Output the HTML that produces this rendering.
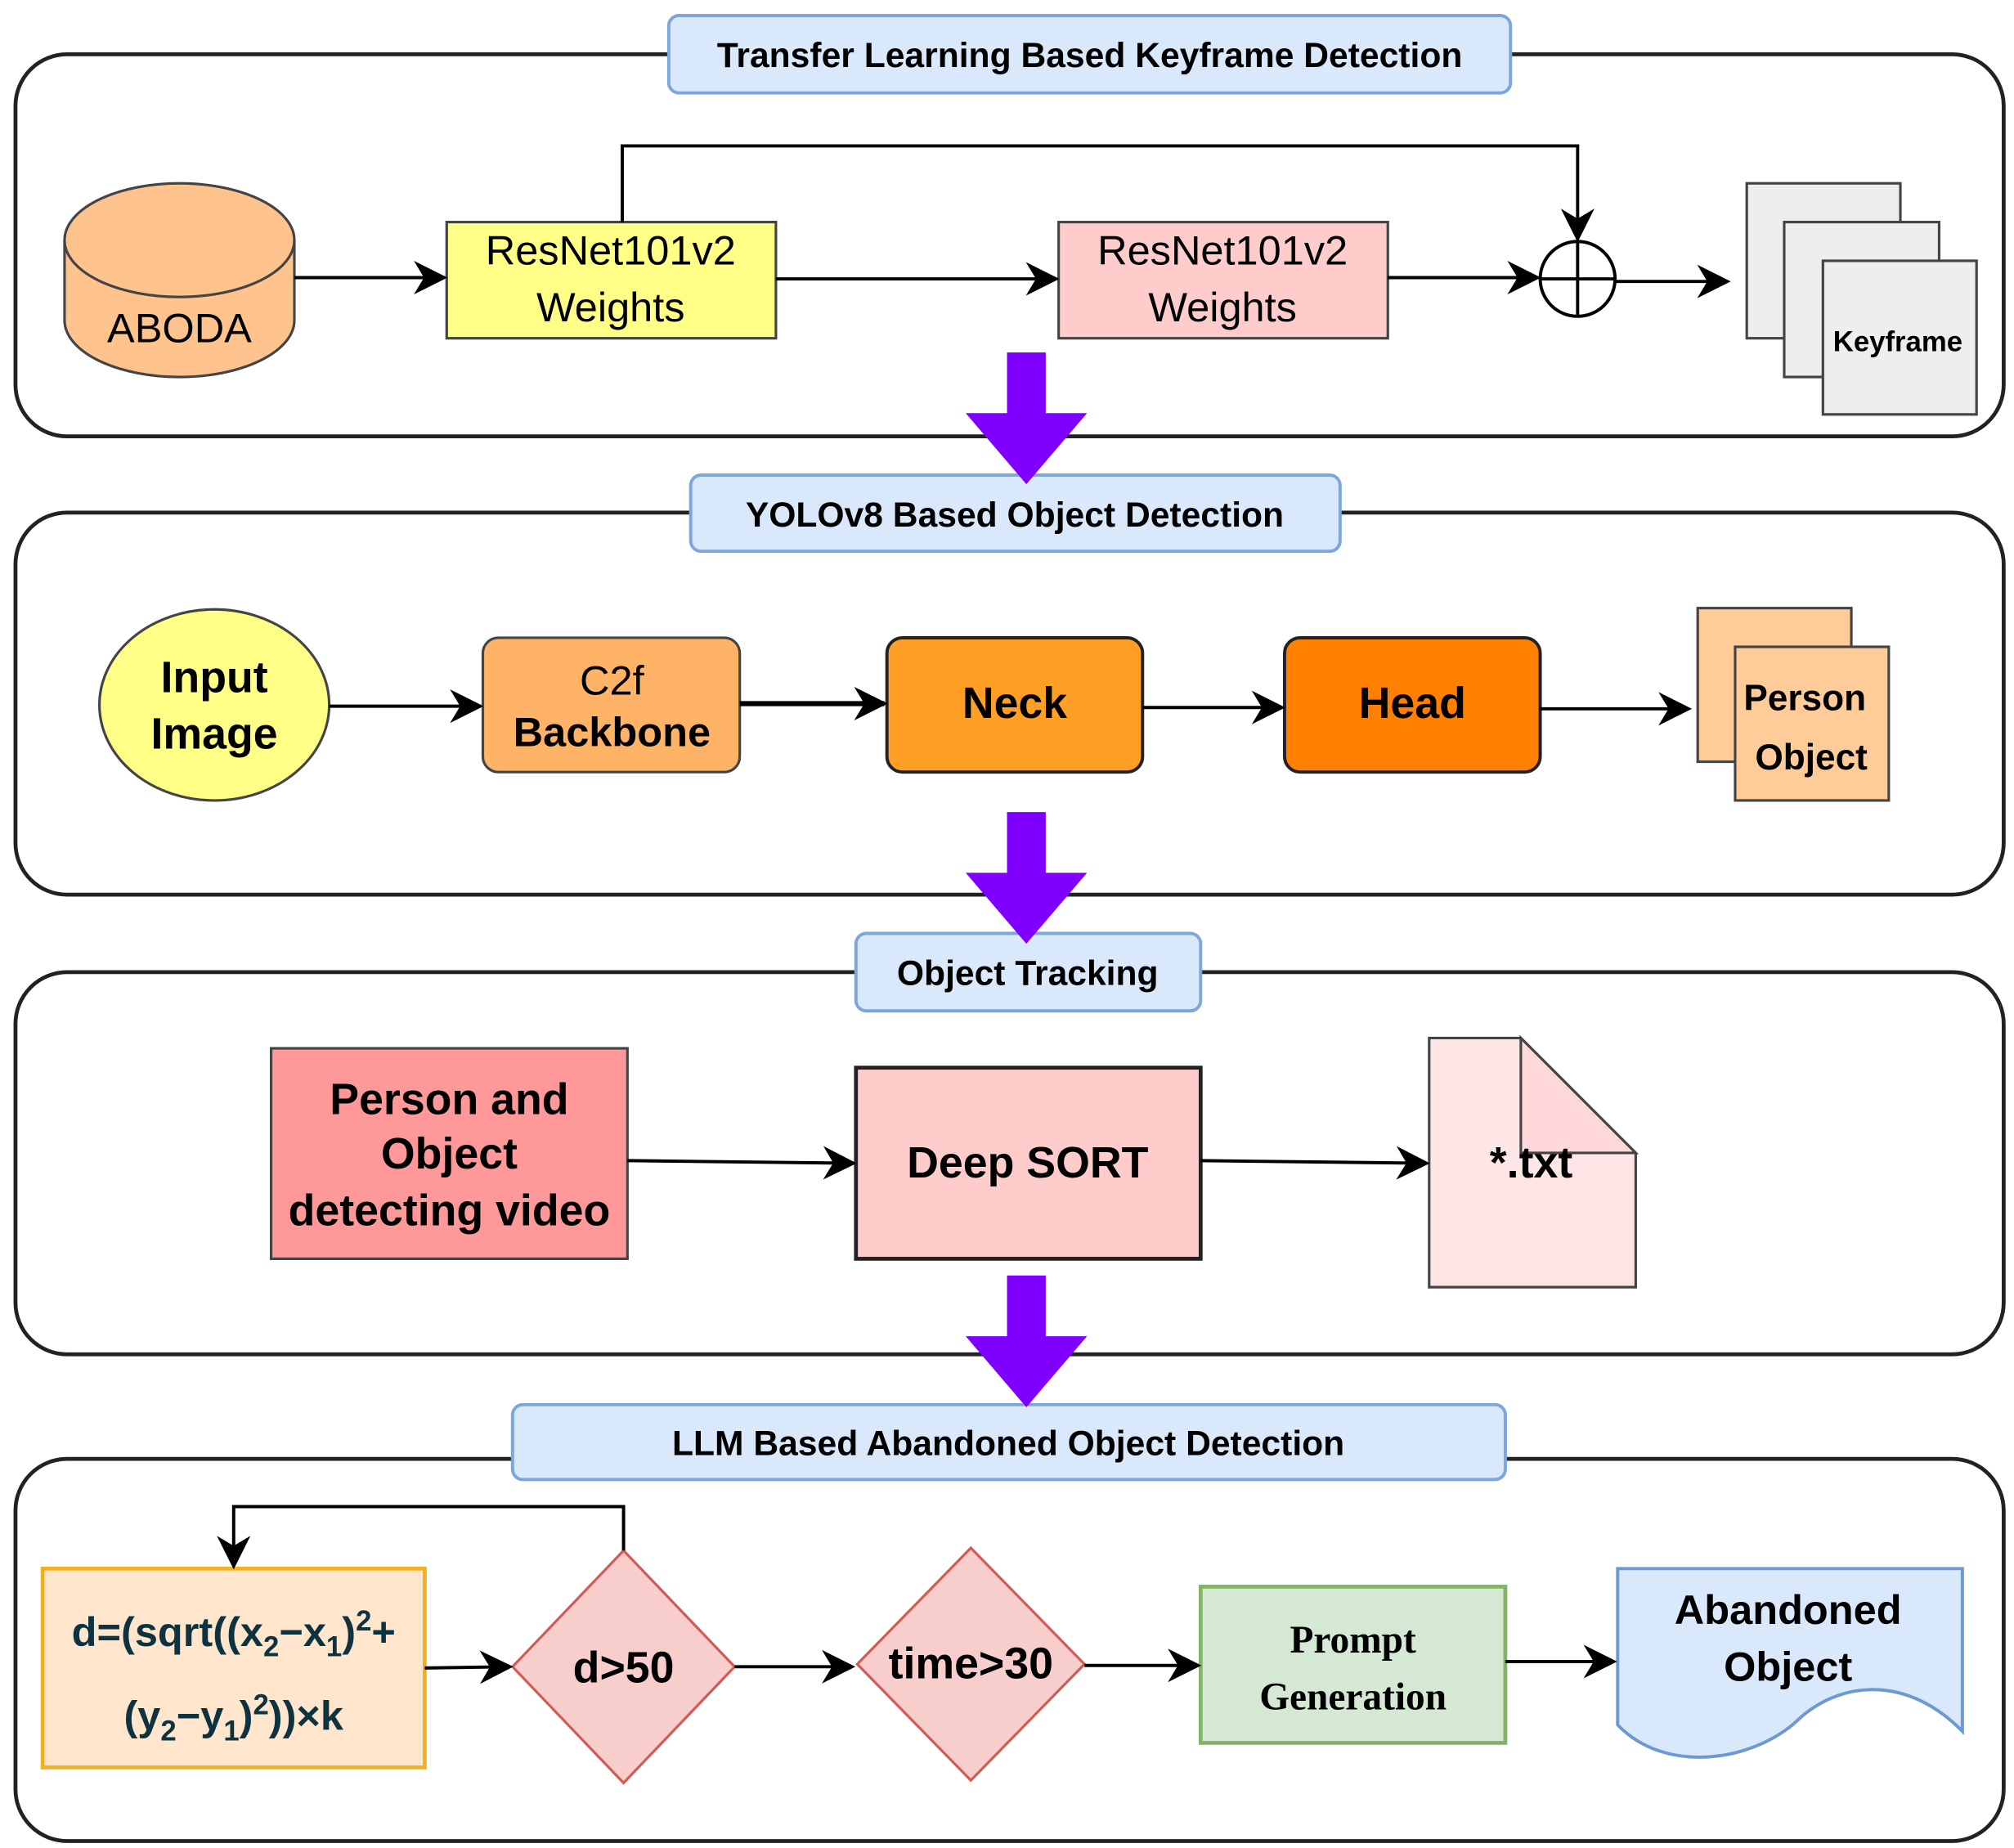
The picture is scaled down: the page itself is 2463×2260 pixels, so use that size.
<!DOCTYPE html>
<html><head><meta charset="utf-8"><style>html,body{margin:0;padding:0;background:#fff}svg{display:block}</style></head>
<body>
<svg width="2463" height="2260" viewBox="0 0 1560 1431.4" xmlns="http://www.w3.org/2000/svg" font-family="Liberation Sans, Arial, sans-serif">
<defs>
<marker id="a" viewBox="0 0 10 10" refX="9" refY="5" markerWidth="8" markerHeight="8" markerUnits="userSpaceOnUse" orient="auto"><path d="M0,0 L10,5 L0,10 L3,5 z" fill="#000"/></marker>
<marker id="b" viewBox="0 0 10 10" refX="9" refY="5" markerWidth="26" markerHeight="26" markerUnits="userSpaceOnUse" orient="auto"><path d="M0,0 L10,5 L0,10 L3,5 z" fill="#000"/></marker>
</defs>
<rect width="1560" height="1432" fill="#fff"/>
<g fill="none" stroke="#222" stroke-width="3">
<rect x="12" y="42" width="1540" height="296" rx="40"/>
<rect x="12" y="397" width="1540" height="296" rx="40"/>
<rect x="12" y="753" width="1540" height="296" rx="40"/>
<rect x="12" y="1130" width="1540" height="296" rx="40"/>
</g>
<!-- titles -->
<g fill="#dae8fc" stroke="#7ea6d8" stroke-width="2.5">
<rect x="518" y="12" width="652" height="60" rx="8"/>
<rect x="535" y="368" width="503" height="59" rx="8"/>
<rect x="663" y="723" width="267" height="60" rx="8"/>
<rect x="397" y="1088" width="769" height="58" rx="8"/>
</g>
<g font-weight="bold" font-size="27" text-anchor="middle" fill="#000">
<text x="844" y="52">Transfer Learning Based Keyframe Detection</text>
<text x="786" y="408">YOLOv8 Based Object Detection</text>
<text x="796" y="763">Object Tracking</text>
<text x="781" y="1127">LLM Based Abandoned Object Detection</text>
</g>
<!-- panel 1 -->
<path d="M50,186 L50,248 A89,44 0 0 0 228,248 L228,186" fill="#ffc48e" stroke="#444" stroke-width="2"/>
<ellipse cx="139" cy="186" rx="89" ry="44" fill="#ffc48e" stroke="#444" stroke-width="2"/>
<text x="139" y="265" font-size="32" text-anchor="middle">ABODA</text>
<rect x="346" y="172" width="255" height="90" fill="#ffff88" stroke="#444" stroke-width="2"/>
<text x="473" y="205" font-size="32" text-anchor="middle">ResNet101v2</text>
<text x="473" y="249" font-size="32" text-anchor="middle">Weights</text>
<rect x="820" y="172" width="255" height="90" fill="#ffcccc" stroke="#444" stroke-width="2"/>
<text x="947" y="205" font-size="32" text-anchor="middle">ResNet101v2</text>
<text x="947" y="249" font-size="32" text-anchor="middle">Weights</text>
<circle cx="1222" cy="216" r="29" fill="#fff" stroke="#000" stroke-width="2.5"/>
<path d="M1193,216 H1251 M1222,187 V245" stroke="#000" stroke-width="2.5"/>
<g stroke="#000" stroke-width="2.5" fill="none" marker-end="url(#b)">
<path d="M228,215 H344"/>
<path d="M601,216 H818"/>
<path d="M1075,215 H1191"/>
<path d="M1251,218 H1338"/>
<path d="M482,172 V113 H1222 V185"/>
</g>
<g fill="#eeeeee" stroke="#444" stroke-width="2">
<rect x="1353" y="142" width="119" height="120"/>
<rect x="1382" y="172" width="120" height="120"/>
<rect x="1412" y="202" width="119" height="119"/>
</g>
<text x="1470" y="272" font-size="22" font-weight="bold" text-anchor="middle">Keyframe</text>
<!-- purple arrows -->
<g fill="#7f00ff">
<path d="M780,273 H810 V320 H842 L795,375 L748,320 H780 Z"/>
<path d="M780,629 H810 V676 H842 L795,731 L748,676 H780 Z"/>
<path d="M780,988 H810 V1035 H842 L795,1090 L748,1035 H780 Z"/>
</g>
<!-- panel 2 -->
<ellipse cx="166" cy="546" rx="89" ry="74" fill="#ffff88" stroke="#444" stroke-width="2"/>
<text x="166" y="536" font-size="34" font-weight="bold" text-anchor="middle">Input</text>
<text x="166" y="580" font-size="34" font-weight="bold" text-anchor="middle">Image</text>
<rect x="374" y="494" width="199" height="104" rx="12" fill="#ffb366" stroke="#444" stroke-width="2"/>
<text x="474" y="538" font-size="32" text-anchor="middle">C2f</text>
<text x="474" y="578" font-size="32" font-weight="bold" text-anchor="middle">Backbone</text>
<rect x="687" y="494" width="198" height="104" rx="12" fill="#ff9f26" stroke="#222" stroke-width="2.5"/>
<text x="786" y="556" font-size="34" font-weight="bold" text-anchor="middle">Neck</text>
<rect x="995" y="494" width="198" height="104" rx="12" fill="#ff8000" stroke="#222" stroke-width="2.5"/>
<text x="1094" y="556" font-size="34" font-weight="bold" text-anchor="middle">Head</text>
<g fill="#ffcc99" stroke="#444" stroke-width="2">
<rect x="1315" y="471" width="119" height="119"/>
<rect x="1344" y="501" width="119" height="119"/>
</g>
<text x="1398" y="550" font-size="28" font-weight="bold" text-anchor="middle">Person</text>
<text x="1403" y="596" font-size="28" font-weight="bold" text-anchor="middle">Object</text>
<g stroke="#000" stroke-width="2.5" fill="none" marker-end="url(#b)">
<path d="M255,547 H372"/>
<path d="M573,545 H685" stroke-width="4"/>
<path d="M885,548 H993"/>
<path d="M1193,549 H1308"/>
</g>
<!-- panel 3 -->
<rect x="210" y="812" width="276" height="163" fill="#ff9999" stroke="#444" stroke-width="2"/>
<text x="348" y="863" font-size="34" font-weight="bold" text-anchor="middle">Person and</text>
<text x="348" y="905" font-size="34" font-weight="bold" text-anchor="middle">Object</text>
<text x="348" y="949" font-size="34" font-weight="bold" text-anchor="middle">detecting video</text>
<rect x="663" y="827" width="267" height="148" fill="#ffcccc" stroke="#222" stroke-width="3"/>
<text x="796" y="912" font-size="34" font-weight="bold" text-anchor="middle">Deep SORT</text>
<path d="M1107,804 H1178 L1267,893 V997 H1107 Z" fill="#ffe6e6" stroke="#444" stroke-width="2"/>
<path d="M1178,804 V893 H1267 Z" fill="#ffd9d9" stroke="#444" stroke-width="2"/>
<text x="1186" y="912" font-size="34" font-weight="bold" text-anchor="middle">*.txt</text>
<g stroke="#000" stroke-width="2.5" fill="none" marker-end="url(#b)">
<path d="M486,899 L661,901"/>
<path d="M930,899 L1105,901"/>
</g>
<!-- panel 4 -->
<rect x="33" y="1215" width="296" height="154" fill="#ffe6cc" stroke="#f0b020" stroke-width="3"/>
<text x="181" y="1275" font-size="32" font-weight="bold" text-anchor="middle" fill="#0d3340">d=(sqrt((x<tspan font-size="22" dy="8">2</tspan><tspan dy="-8">−x</tspan><tspan font-size="22" dy="8">1</tspan><tspan dy="-8">)</tspan><tspan font-size="22" dy="-12">2</tspan><tspan dy="12">+</tspan></text>
<text x="181" y="1340" font-size="32" font-weight="bold" text-anchor="middle" fill="#0d3340">(y<tspan font-size="22" dy="8">2</tspan><tspan dy="-8">−y</tspan><tspan font-size="22" dy="8">1</tspan><tspan dy="-8">)</tspan><tspan font-size="22" dy="-12">2</tspan><tspan dy="12">))×k</tspan></text>
<path d="M483,1201 L569,1291 L483,1381 L397,1291 Z" fill="#f8cecc" stroke="#d25a55" stroke-width="2"/>
<text x="483" y="1303" font-size="34" font-weight="bold" text-anchor="middle">d&gt;50</text>
<path d="M752,1199 L840,1289 L752,1379 L664,1289 Z" fill="#f8cecc" stroke="#d25a55" stroke-width="2"/>
<text x="752" y="1300" font-size="34" font-weight="bold" text-anchor="middle">time&gt;30</text>
<rect x="930" y="1229" width="236" height="121" fill="#d5e8d4" stroke="#82b366" stroke-width="3"/>
<text x="1048" y="1280" font-size="30" font-weight="bold" text-anchor="middle" font-family="Liberation Serif, serif">Prompt</text>
<text x="1048" y="1324" font-size="30" font-weight="bold" text-anchor="middle" font-family="Liberation Serif, serif">Generation</text>
<path d="M1253,1215 H1520 V1341 C1480,1300 1430,1300 1395,1330 C1360,1365 1290,1375 1253,1336 Z" fill="#dae8fc" stroke="#6c9ad0" stroke-width="2.5"/>
<text x="1385" y="1258" font-size="32" font-weight="bold" text-anchor="middle">Abandoned</text>
<text x="1385" y="1302" font-size="32" font-weight="bold" text-anchor="middle">Object</text>
<g stroke="#000" stroke-width="2.5" fill="none" marker-end="url(#b)">
<path d="M329,1292 L395,1291"/>
<path d="M569,1291 H660"/>
<path d="M840,1290 H928"/>
<path d="M1166,1287 H1250"/>
<path d="M483,1201 V1167 H181 V1213"/>
</g>
</svg>
</body></html>
